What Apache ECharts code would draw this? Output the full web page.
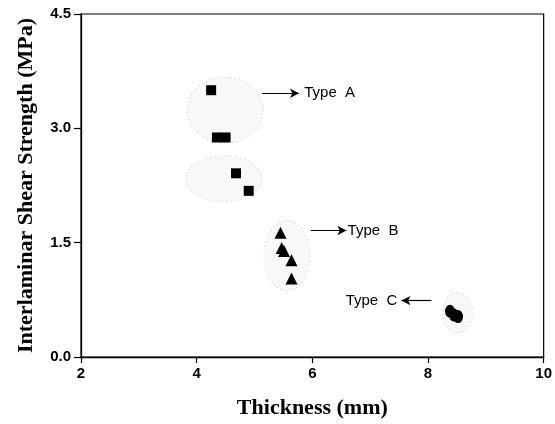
<!DOCTYPE html>
<html>
<head>
<meta charset="utf-8">
<script src="https://cdn.jsdelivr.net/npm/echarts@6/dist/echarts.min.js"></script>
<style>
  html, body { margin: 0; padding: 0; background: #fff; }
  #chart { width: 555px; height: 424px; }
</style>
</head>
<body>
<div id="chart"></div>
<script>
// thickness (mm), strength (MPa)
const typeA = [[4.25, 3.50], [4.35, 2.88], [4.50, 2.88], [4.68, 2.41], [4.90, 2.18]];
const typeB = [[5.45, 1.63], [5.47, 1.43], [5.51, 1.39], [5.64, 1.27], [5.64, 1.03]];
const typeC = [[8.38, 0.60], [8.45, 0.55], [8.52, 0.53]];

// faint speckled regions round each group: [x, y, widthPx, heightPx]
const regions = [[4.49, 3.24, 76, 66], [4.47, 2.34, 76, 46], [5.56, 1.33, 46, 70], [8.51, 0.58, 30, 40]];

// arrows [from, to] and their labels
const arrows = [
  [[5.13, 3.46], [5.77, 3.46]],
  [[5.97, 1.66], [6.59, 1.66]],
  [[8.06, 0.74], [7.54, 0.74]]
];
const labels = [
  { name: 'Type  A', coord: [5.86, 3.46], side: 'right' },
  { name: 'Type  B', coord: [6.61, 1.66], side: 'right' },
  { name: 'Type  C', coord: [7.47, 0.74], side: 'left' }
];

const myChart = echarts.init(document.getElementById('chart'));

const tickFont = { color: '#000', fontSize: 15, fontWeight: 'bold', fontFamily: 'Liberation Sans' };
const titleFont = { color: '#000', fontSize: 22, fontWeight: 'bold', fontFamily: 'Liberation Serif' };
const markStyle = { color: '#000', opacity: 1 };

const option = {
  animation: false,
  grid: {
    left: 81, right: 11, top: 14, bottom: 67,
    show: true, borderColor: '#000', borderWidth: 1.2
  },
  xAxis: {
    type: 'value',
    min: 2, max: 10, interval: 2,
    name: 'Thickness (mm)',
    nameLocation: 'middle',
    nameGap: 40,
    nameTextStyle: titleFont,
    axisLine: { onZero: false, lineStyle: { color: '#000', width: 1.3 } },
    axisTick: { length: 6, lineStyle: { color: '#000', width: 1.2 } },
    axisLabel: Object.assign({ margin: 9 }, tickFont),
    splitLine: { show: false }
  },
  yAxis: {
    type: 'value',
    min: 0, max: 4.5, interval: 1.5,
    name: 'Interlaminar Shear Strength (MPa)',
    nameLocation: 'middle',
    nameGap: 44,
    nameTextStyle: titleFont,
    axisLine: { onZero: false, lineStyle: { color: '#000', width: 1.3 } },
    axisTick: { length: 7, lineStyle: { color: '#000', width: 1.2 } },
    axisLabel: Object.assign({ margin: 10, formatter: v => v.toFixed(1) }, tickFont),
    splitLine: { show: false }
  },
  series: [
    {
      name: 'regions',
      type: 'scatter',
      silent: true,
      z: 1,
      data: regions.map(r => ({ value: [r[0], r[1]], symbolSize: [r[2], r[3]] })),
      symbol: 'circle',
      itemStyle: {
        color: 'rgba(200,200,200,0.13)',
        opacity: 1,
        borderColor: '#c8c8c8',
        borderWidth: 1,
        borderType: [1, 3]
      }
    },
    {
      name: 'Type A',
      type: 'scatter',
      z: 3,
      data: typeA,
      symbol: 'rect',
      symbolSize: 10,
      itemStyle: markStyle,
      markLine: {
        silent: true,
        symbol: ['none', 'arrow'],
        symbolSize: [7, 9],
        lineStyle: { color: '#000', width: 1.2, type: 'solid', opacity: 1 },
        label: { show: false },
        data: arrows.map(a => [{ coord: a[0] }, { coord: a[1] }])
      },
      markPoint: {
        symbol: 'circle',
        symbolSize: 0,
        data: labels.map(l => ({
          name: l.name,
          coord: l.coord,
          label: {
            show: true,
            position: l.side,
            distance: 0,
            formatter: '{b}',
            color: '#000',
            fontSize: 15,
            fontFamily: 'Liberation Sans'
          }
        }))
      }
    },
    {
      name: 'Type B',
      type: 'scatter',
      z: 3,
      data: typeB,
      symbol: 'triangle',
      symbolSize: 12,
      itemStyle: markStyle
    },
    {
      name: 'Type C',
      type: 'scatter',
      z: 3,
      data: typeC,
      symbol: 'circle',
      symbolSize: [10, 13],
      itemStyle: markStyle
    }
  ]
};

myChart.setOption(option);
</script>
</body>
</html>
